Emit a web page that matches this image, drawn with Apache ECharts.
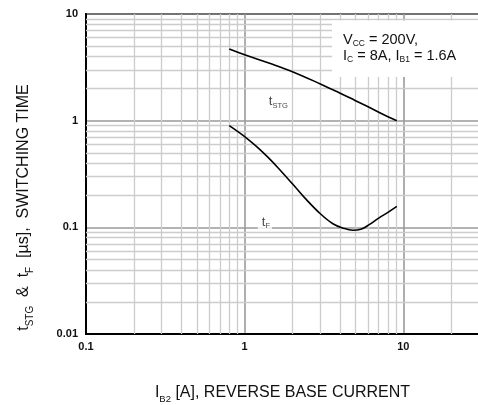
<!DOCTYPE html>
<html>
<head>
<meta charset="utf-8">
<script src="https://cdn.jsdelivr.net/npm/echarts@6/dist/echarts.min.js"></script>
<style>
html,body{margin:0;padding:0;background:#fff;}
#chart{width:478px;height:405px;}
</style>
</head>
<body>
<div id="chart"></div>
<script>
// ---- data ----
var xTicks = [0.1, 1, 10];
var yTicks = [0.01, 0.1, 1, 10];
var xMinorGrid = [0.2,0.3,0.4,0.5,0.6,0.7,0.8,0.9, 2,3,4,5,6,7,8,9, 20];
var yMinorGrid = [0.02,0.03,0.04,0.05,0.06,0.07,0.08,0.09, 0.2,0.3,0.4,0.5,0.6,0.7,0.8,0.9, 2,3,4,5,6,7,8,9];

var tstgX = [0.8, 1, 1.5, 2, 3, 4, 5, 6, 7, 8, 9.1];
var tstgY = [4.70, 4.15, 3.38, 2.88, 2.21, 1.81, 1.54, 1.35, 1.20, 1.09, 1.0];

var tfX = [0.8, 1, 1.2, 1.4, 1.6, 2, 2.4, 3, 3.6, 4.2, 4.8, 5.4, 6.1, 7, 8, 9.1];
var tfY = [0.90, 0.71, 0.565, 0.455, 0.37, 0.256, 0.188, 0.134, 0.108, 0.098, 0.094, 0.096, 0.106, 0.122, 0.138, 0.157];

var curveLabelPos = [[1.34, 1.50], [1.21, 0.112]];
var curveLabelText = ['{m|t}{s|STG}', '{m|t}{s|F}'];

var legendText = '{m|V}{s|CC}{m| = 200V,}\n{m|I}{s|C}{m| = 8A, I}{s|B1}{m| = 1.6A}';
var xName = '{m|I}{s|B2}{m| [A], REVERSE BASE CURRENT}';
var yName = '{m|t}{s|STG}{m|  &  t}{s|F}{m|  [\u00b5s],  SWITCHING TIME}';

function zip(a, b) { return a.map(function (v, i) { return [v, b[i]]; }); }

var FONT = 'Liberation Sans, Arial, sans-serif';
var titleRich = {
  m: {fontSize: 16, fontFamily: FONT, fontWeight: 'normal', color: '#111', lineHeight: 22},
  s: {fontSize: 9.5, fontFamily: FONT, fontWeight: 'normal', color: '#111', lineHeight: 12, verticalAlign: 'bottom'}
};
var yTitleRich = {
  m: {fontSize: 16, fontFamily: FONT, fontWeight: 'normal', color: '#111', lineHeight: 22},
  s: {fontSize: 10, fontFamily: FONT, fontWeight: 'normal', color: '#111', lineHeight: 12, verticalAlign: 'bottom'}
};

var chart = echarts.init(document.getElementById('chart'), null, {renderer: 'canvas'});
chart.setOption({
  animation: false,
  backgroundColor: '#fff',
  title: {
    text: legendText,
    left: 332, top: 20,
    padding: [12, 30, 13, 11],
    backgroundColor: '#fff',
    textStyle: {
      fontWeight: 'normal',
      rich: {
        m: {fontSize: 14.5, fontFamily: FONT, fontWeight: 'normal', color: '#111', lineHeight: 16},
        s: {fontSize: 8.5, fontFamily: FONT, fontWeight: 'normal', color: '#111', lineHeight: 10, verticalAlign: 'bottom'}
      }
    }
  },
  grid: {left: 86, top: 14, right: -1, bottom: 71, containLabel: false, outerBoundsMode: 'none',
         show: true, borderColor: '#000', borderWidth: 2, backgroundColor: 'transparent'},
  xAxis: {
    type: 'log', logBase: 10, min: 0.1, max: 30, interval: 1,
    name: xName, nameLocation: 'middle', nameGap: 48,
    nameTextStyle: {rich: titleRich},
    axisLine: {show: true, lineStyle: {color: '#000', width: 2}},
    axisTick: {show: false},
    axisLabel: {
      fontSize: 11, fontWeight: 'bold', fontFamily: FONT, color: '#111', margin: 7,
      showMaxLabel: false,
      formatter: function (v) { return xTicks.some(function(t){return Math.abs(t-v)<1e-9;}) ? String(+v.toPrecision(3)) : ''; }
    },
    splitLine: {show: true, lineStyle: {color: '#9a9a9a', width: 1.6}},
    minorTick: {show: false}, minorSplitLine: {show: false}
  },
  yAxis: {
    type: 'log', logBase: 10, min: 0.01, max: 10, interval: 1,
    name: yName, nameLocation: 'middle', nameGap: 51, nameRotate: 90,
    nameTextStyle: {rich: yTitleRich, padding: [0, 67, 0, 0]},
    axisLine: {show: true, lineStyle: {color: '#000', width: 2}},
    axisTick: {show: false},
    axisLabel: {
      fontSize: 11, fontWeight: 'bold', fontFamily: FONT, color: '#111', margin: 8,
      formatter: function (v) { return yTicks.some(function(t){return Math.abs(t-v)<1e-12;}) ? String(+v.toPrecision(3)) : ''; }
    },
    splitLine: {show: true, lineStyle: {color: '#9a9a9a', width: 1.6}}
  },
  series: [
    {
      type: 'line', data: [], z: -1, silent: true,
      markLine: {
        silent: true, symbol: 'none', animation: false,
        label: {show: false},
        lineStyle: {color: '#cccccc', width: 1.3, type: 'solid'},
        emphasis: {disabled: true},
        data: xMinorGrid.map(function (v) { return {xAxis: v}; })
          .concat(yMinorGrid.map(function (v) { return {yAxis: v}; }))
      }
    },
    {
      type: 'line', data: zip(tstgX, tstgY), smooth: 0.4, showSymbol: false, z: 5,
      lineStyle: {color: '#000', width: 1.6}
    },
    {
      type: 'line', data: zip(tfX, tfY), smooth: 0.4, showSymbol: false, z: 5,
      lineStyle: {color: '#000', width: 1.6}
    },
    {
      type: 'scatter', symbolSize: 0, z: 6, silent: true,
      data: curveLabelPos.map(function (p, i) { return {value: p, name: curveLabelText[i]}; }),
      label: {
        show: true, position: [0, 0], align: 'left', verticalAlign: 'middle',
        formatter: function (p) { return p.name; },
        backgroundColor: '#fff', padding: [0, 2, 0, 4],
        rich: {
          m: {fontSize: 13, fontFamily: FONT, color: '#111', lineHeight: 16},
          s: {fontSize: 7.5, fontFamily: FONT, color: '#111', lineHeight: 9, verticalAlign: 'bottom'}
        }
      }
    }
  ]
});
</script>
</body>
</html>
